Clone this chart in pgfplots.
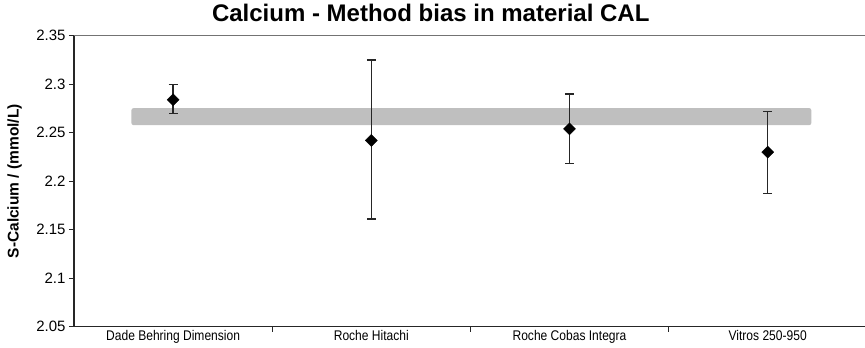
\documentclass[border=0pt]{standalone}
\usepackage{pgfplots}
\pgfplotsset{compat=1.18}
\usepackage{fontspec}
\setmainfont{Liberation Sans}
\newfontfamily\narrowfont[FakeStretch=0.86]{Liberation Sans}
\definecolor{bandgray}{HTML}{BFBFBF}
\begin{document}
\begin{tikzpicture}
\begin{axis}[
  scale only axis, width=791bp, height=291bp,
  xmin=-0.5, xmax=3.491, ymin=2.05, ymax=2.35,
  axis x line*=bottom, axis y line*=left,
  axis line style={line width=1.1bp, black!85},
  tick align=outside, major tick length=5bp,
  tick style={line width=0.9bp, black!85},
  ytick={2.05,2.1,2.15,2.2,2.25,2.3,2.35},
  yticklabels={2.05,2.1,2.15,2.2,2.25,2.3,2.35},
  yticklabel style={font=\fontsize{15bp}{17bp}\selectfont},
  xtick={0.5,1.5,2.5}, xticklabels={},
  extra x ticks={0,1,2,3},
  extra x tick labels={Dade Behring Dimension, Roche Hitachi, Roche Cobas Integra, Vitros 250-950},
  extra x tick style={major tick length=0pt, tick label style={font=\narrowfont\fontsize{14bp}{16bp}\selectfont}},
  ylabel={S-Calcium / (mmol/L)},
  ylabel style={font=\bfseries\fontsize{15.5bp}{18bp}\selectfont, at={(axis description cs:-0.07,0.5)}, anchor=base},
  title={Calcium - Method bias in material CAL},
  title style={font=\bfseries\fontsize{24bp}{28bp}\selectfont, at={(axis description cs:0.451,1)}, anchor=base, yshift=8.4bp},
]
\addplot[draw=none, fill=bandgray, rounded corners=2bp] coordinates {(-0.21,2.2578) (3.22,2.2578) (3.22,2.2753) (-0.21,2.2753)} -- cycle;
\addplot[only marks, mark=diamond*, mark size=6bp, mark options={xscale=1.33}, black,
  error bars/.cd, y dir=both, y explicit,
  error bar style={line width=1.3bp, black!85},
  error mark options={rotate=90, mark size=4.5bp, line width=1.3bp, black!85}]
  table[x=x, y=y, y error plus=ep, y error minus=em] {
x y ep em
0 2.284 0.016 0.014
1 2.242 0.083 0.081
2 2.254 0.036 0.036
3 2.230 0.042 0.043
};
\coordinate (tl) at (rel axis cs:0,1);
\coordinate (tr) at (rel axis cs:1,1);
\coordinate (bl) at (rel axis cs:0,0);
\end{axis}
\draw[line width=1.1bp, black!55] (tl) -- (tr);
\pgfresetboundingbox
\path ([xshift=-74bp,yshift=-21.3bp]bl) rectangle ([yshift=35.7bp]tr);
\end{tikzpicture}
\end{document}
